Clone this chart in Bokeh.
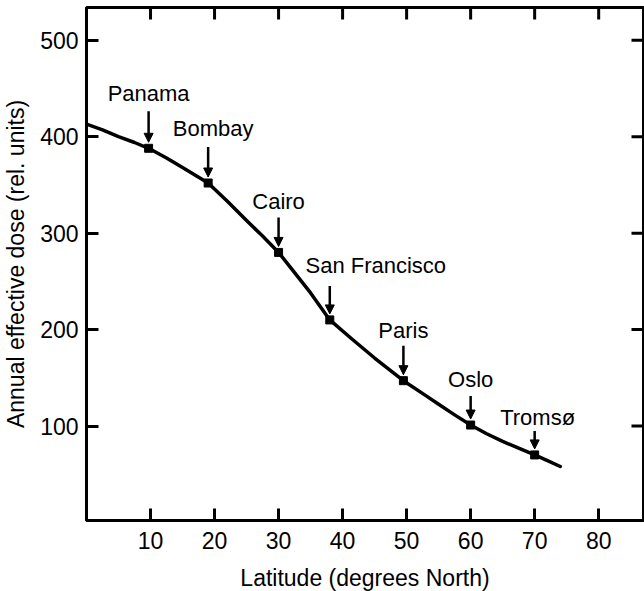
from bokeh.plotting import figure
from bokeh.models import (Range1d, FixedTicker, ColumnDataSource,
                          LabelSet, Arrow, NormalHead)
from bokeh.core.properties import value
from bokeh.embed import file_html
from bokeh.resources import INLINE

# ---------------- data ----------------
curve_lat = [0, 2.5, 5, 7.5, 9.7, 12.5, 15, 17, 19, 22, 25, 27.5, 30, 32.5, 35, 38,
             41.5, 45, 49.5, 53, 55, 57.5, 60, 62.5, 65, 67.5, 70, 72, 74]
curve_dose = [413, 407, 400, 394, 388, 378, 368, 360, 352, 333, 313, 297, 280, 259, 238, 210,
              190, 170.5, 147, 131.5, 122.5, 111.5, 101, 92, 84, 77, 70, 64, 58]

cities = ["Panama", "Bombay", "Cairo", "San Francisco", "Paris", "Oslo", "Tromsø"]
city_lat = [9.7, 19, 30, 38, 49.5, 60, 70]
city_dose = [388, 352, 280, 210, 147, 101, 70]

x_ticks = [10, 20, 30, 40, 50, 60, 70, 80]
y_ticks = [100, 200, 300, 400, 500]

# ---------------- styling (screen-pixel offsets of annotations) ----------------
label_dx = [0, 5, 0, 46, 0, 0, 3]
label_dy = [47, 47, 43, 47, 43, 38, 30]
arrow_top_px = [37, 36, 35, 34, 35, 29, 24]
arrow_tip_px = 6
TICK_PX = 12

X0, X1 = 0, 87
Y0, Y1 = 2, 534
FRAME_W, FRAME_H = 557, 513
units_per_px_y = (Y1 - Y0) / FRAME_H
units_per_px_x = (X1 - X0) / FRAME_W

FONT = "Liberation Sans"

p = figure(frame_width=FRAME_W, frame_height=FRAME_H,
           x_range=Range1d(X0, X1), y_range=Range1d(Y0, Y1),
           output_backend="svg", toolbar_location=None,
           min_border_left=76, min_border_right=1, min_border_top=7,
           min_border_bottom=0,
           x_axis_label="Latitude (degrees North)",
           y_axis_label="Annual effective dose (rel. units)")

p.grid.visible = False
p.outline_line_color = "black"
p.outline_line_width = 3
p.background_fill_color = "white"
p.border_fill_color = "white"

for ax, ticks in ((p.xaxis[0], x_ticks), (p.yaxis[0], y_ticks)):
    ax.ticker = FixedTicker(ticks=ticks)
    ax.axis_line_color = "black"
    ax.axis_line_width = 3
    ax.major_tick_in = TICK_PX
    ax.major_tick_out = 0
    ax.major_tick_line_width = 3
    ax.major_tick_line_color = "black"
    ax.minor_tick_line_color = None
    ax.major_label_text_font = FONT
    ax.major_label_text_font_size = "23px"
    ax.major_label_text_color = "black"
    ax.axis_label_text_font = FONT
    ax.axis_label_text_font_size = "23px"
    ax.axis_label_text_font_style = "normal"
    ax.axis_label_text_color = "black"

p.xaxis[0].major_label_standoff = 11
p.xaxis[0].axis_label_standoff = 13
p.yaxis[0].major_label_standoff = 8
p.yaxis[0].axis_label_standoff = 8

# inward ticks on the top and right edges of the frame
p.segment(x0=x_ticks, x1=x_ticks, y0=[Y1] * len(x_ticks),
          y1=[Y1 - TICK_PX * units_per_px_y] * len(x_ticks),
          line_color="black", line_width=3)
p.segment(x0=[X1] * len(y_ticks), x1=[X1 - TICK_PX * units_per_px_x] * len(y_ticks),
          y0=y_ticks, y1=y_ticks, line_color="black", line_width=3)

# curve
p.line(curve_lat, curve_dose, line_color="black", line_width=3.5,
       line_join="round", line_cap="round")

# city markers
p.scatter(city_lat, city_dose, marker="square", size=8,
          fill_color="black", line_color="black")

# arrows
arrow_src = ColumnDataSource(dict(
    x=city_lat,
    y_start=[d + t * units_per_px_y for d, t in zip(city_dose, arrow_top_px)],
    y_end=[d + arrow_tip_px * units_per_px_y for d in city_dose],
))
p.add_layout(Arrow(x_start="x", y_start="y_start", x_end="x", y_end="y_end",
                   source=arrow_src, line_color="black", line_width=2.5,
                   end=NormalHead(size=9, fill_color="black", line_color="black")))

# labels
lab_src = ColumnDataSource(dict(x=city_lat, y=city_dose, text=cities,
                                dx=label_dx, dy=label_dy))
p.add_layout(LabelSet(x="x", y="y", text="text", source=lab_src,
                      x_offset="dx", y_offset="dy",
                      text_align="center", text_baseline="alphabetic",
                      text_font=value(FONT), text_font_size="22px",
                      text_color="black"))

open("out.html", "w").write(file_html(p, INLINE))
